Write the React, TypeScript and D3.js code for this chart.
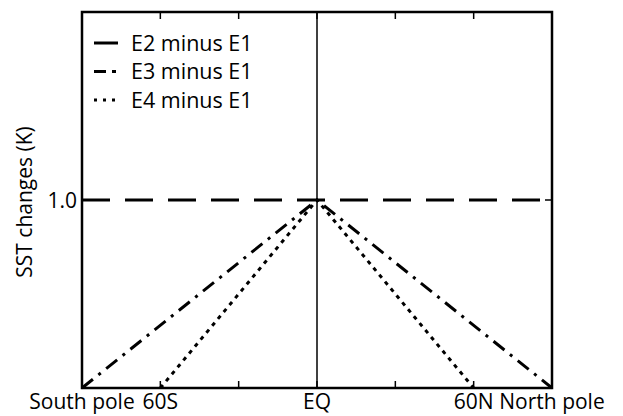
import React from "react";
import * as d3 from "d3";

const xTickValues = [-90, -60, -30, 0, 30, 60, 90];
const xTickLabels = ["South pole", "60S", "", "EQ", "", "60N", "North pole"];
const yTickValues = [1.0];
const yTickLabels = ["1.0"];

const e2Lat = [-90, 0, 90];
const e2Val = [1, 1, 1];
const e3Lat = [-90, 0, 90];
const e3Val = [0, 1, 0];
const e4Lat = [-60, 0, 60];
const e4Val = [0, 1, 0];

const seriesNames = ["E2 minus E1", "E3 minus E1", "E4 minus E1"];

const W = 623, H = 416;
const M = { left: 82, right: 71, top: 12, bottom: 28 };
const FONT = "'Open Sans', sans-serif";

export default function App() {
  const x = d3.scaleLinear().domain([-90, 90]).range([M.left, W - M.right]);
  const y = d3.scaleLinear().domain([0, 2]).range([H - M.bottom, M.top]);
  const line = (lat: number[], v: number[]) =>
    d3.line<number>().x((d, i) => x(lat[i])).y((d) => y(d))(v) || "";

  const styles = [
    { dash: "28,15", w: 3 },
    { dash: "14,7,3,7", w: 3 },
    { dash: "4,5", w: 3 },
  ];
  const data = [
    [e2Lat, e2Val],
    [e3Lat, e3Val],
    [e4Lat, e4Val],
  ];
  const legendSamples = ["24,0", "12,6,4,20", "3,6"];

  return (
    <svg width={W} height={H} style={{ position: "absolute", left: 0, top: 0 }}>
      <rect width={W} height={H} fill="#fff" />
      <line x1={x(0)} x2={x(0)} y1={y(0)} y2={y(2)} stroke="#000" strokeWidth={1.5} />
      {data.map(([lat, v], i) => (
        <path key={i} d={line(lat as number[], v as number[])} fill="none" stroke="#000"
          strokeWidth={styles[i].w} strokeDasharray={styles[i].dash} />
      ))}
      <rect x={x(-90)} y={y(2)} width={x(90) - x(-90)} height={y(0) - y(2)}
        fill="none" stroke="#000" strokeWidth={2.5} />
      {xTickValues.map((t, i) => (
        <g key={i}>
          <line x1={x(t)} x2={x(t)} y1={y(0)} y2={y(0) - 7} stroke="#000" strokeWidth={1.5} />
          <line x1={x(t)} x2={x(t)} y1={y(2)} y2={y(2) + 7} stroke="#000" strokeWidth={1.5} />
          {xTickLabels[i] && (
            <text x={x(t)} y={409} textAnchor="middle" fontFamily={FONT} fontSize={21}>{xTickLabels[i]}</text>
          )}
        </g>
      ))}
      {yTickValues.map((t, i) => (
        <g key={i}>
          <line x1={x(-90)} x2={x(-90) + 7} y1={y(t)} y2={y(t)} stroke="#000" strokeWidth={1.5} />
          <line x1={x(90)} x2={x(90) - 7} y1={y(t)} y2={y(t)} stroke="#000" strokeWidth={1.5} />
          <text x={77} y={y(t)} dy="0.36em" textAnchor="end" fontFamily={FONT} fontSize={21}>{yTickLabels[i]}</text>
        </g>
      ))}
      <text transform={`translate(32,${(y(0) + y(2)) / 2 + 2}) rotate(-90)`} textAnchor="middle"
        fontFamily={FONT} fontSize={21}>SST changes (K)</text>
      {seriesNames.map((n, i) => (
        <g key={i} transform={`translate(0,${43 + i * 28.5})`}>
          <line x1={94} x2={118} y1={0} y2={0} stroke="#000" strokeWidth={3} strokeDasharray={legendSamples[i]} />
          <text x={131} y={0} dy="0.36em" fontFamily={FONT} fontSize={21.5}>{n}</text>
        </g>
      ))}
    </svg>
  );
}
